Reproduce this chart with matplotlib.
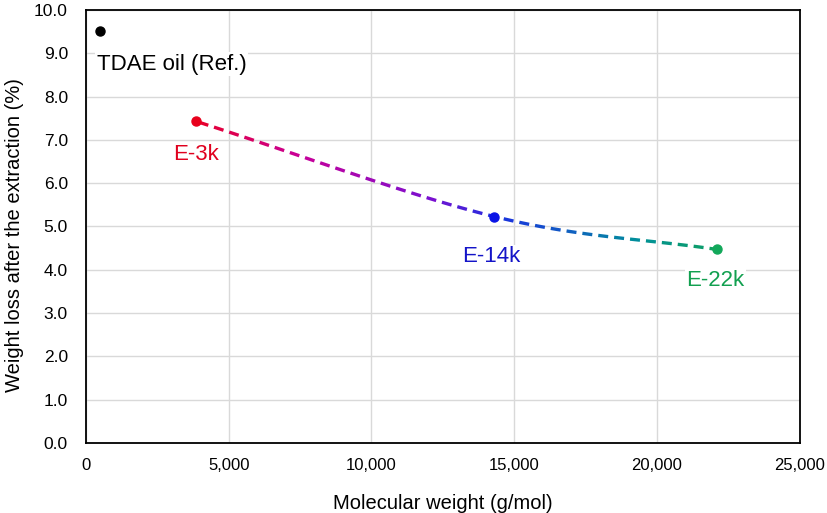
import numpy as np
import matplotlib.pyplot as plt
from matplotlib.collections import LineCollection
from matplotlib.colors import LinearSegmentedColormap

plt.rcParams['font.family'] = ['Liberation Sans', 'DejaVu Sans']

# data
names = ["TDAE oil (Ref.)", "E-3k", "E-14k", "E-22k"]
mol_weight = [500, 3850, 14300, 22100]
weight_loss = [9.51, 7.43, 5.23, 4.47]
point_colors = ["#000000", "#e8001c", "#0a14e6", "#12a85a"]
label_colors = ["#000000", "#e0001e", "#1414c8", "#12a050"]
label_x = [3000, 3850, 14200, 22050]
label_y = [8.75, 6.67, 4.3, 3.76]

x_ticks = [0, 5000, 10000, 15000, 20000, 25000]
y_ticks = np.arange(0, 10.01, 1.0)


def smooth_curve(xs, ys, n=60):
    """Catmull-Rom style smoothing like Excel's smoothed line (render only)."""
    pts = np.column_stack([xs, ys]).astype(float)
    sx, sy = 25000.0, 10.0
    p = pts / [sx, sy]
    ext = np.vstack([p[0] - (p[1] - p[0]), p, p[-1] + (p[-1] - p[-2])])
    out = []
    for i in range(1, len(ext) - 2):
        p0, p1, p2, p3 = ext[i - 1], ext[i], ext[i + 1], ext[i + 2]
        t = np.linspace(0, 1, n)[:, None]
        seg = 0.5 * ((2 * p1) + (-p0 + p2) * t + (2 * p0 - 5 * p1 + 4 * p2 - p3) * t ** 2
                     + (-p0 + 3 * p1 - 3 * p2 + p3) * t ** 3)
        out.append(seg if i == 1 else seg[1:])
    return np.vstack(out) * [sx, sy]


fig = plt.figure(figsize=(8.27, 5.13), dpi=100)
ax = fig.add_axes([0.104, 0.1365, 0.863, 0.844])

ax.set_xlim(0, 25000)
ax.set_ylim(0, 10)
ax.set_xticks(x_ticks)
ax.set_xticklabels([f"{v:,}" for v in x_ticks])
ax.set_yticks(y_ticks)
ax.set_yticklabels([f"{v:.1f}" for v in y_ticks])
ax.grid(True, color="#d9d9d9", linewidth=1.0)
ax.set_axisbelow(True)
ax.tick_params(axis="x", length=0, labelsize=12, pad=11)
ax.tick_params(axis="y", length=0, labelsize=12.5, pad=13)
for s in ax.spines.values():
    s.set_color("black")
    s.set_linewidth(1.3)

# gradient dashed trend through the E samples
curve = smooth_curve(mol_weight[1:], weight_loss[1:], n=200)
disp = ax.transData.transform(curve)
d = np.r_[0, np.cumsum(np.hypot(*np.diff(disp, axis=0).T))]
on, off = 10.0, 6.0
segs, cvals = [], []
start = 3.0
while start < d[-1]:
    end = min(start + on, d[-1])
    mask = (d >= start) & (d <= end)
    s0 = np.interp(start, d, curve[:, 0]), np.interp(start, d, curve[:, 1])
    s1 = np.interp(end, d, curve[:, 0]), np.interp(end, d, curve[:, 1])
    segs.append(np.vstack([s0, curve[mask], s1]))
    cvals.append(np.interp(0.5 * (start + end), d, curve[:, 0]))
    start += on + off

grad = LinearSegmentedColormap.from_list(
    "trend",
    [(0.0, "#e8002a"), (0.2, "#c8009a"), (0.45, "#7a10d0"), (0.58, "#1a30e0"),
     (0.72, "#1060c0"), (0.85, "#00909a"), (1.0, "#10a060")])
x0, x1 = mol_weight[1], mol_weight[3]
cols = [grad((c - x0) / (x1 - x0)) for c in cvals]
ax.add_collection(LineCollection(segs, colors=cols, linewidths=2.4, capstyle="butt", zorder=2))

for xv, yv, c in zip(mol_weight, weight_loss, point_colors):
    ax.plot(xv, yv, "o", color=c, markersize=6.5, zorder=3)

for name, lx, ly, c in zip(names, label_x, label_y, label_colors):
    ax.text(lx, ly, name, color=c, fontsize=16, ha="center", va="center",
            bbox=dict(facecolor="white", edgecolor="none", pad=1.0), zorder=4)

ax.set_xlabel("Molecular weight (g/mol)", fontsize=14.5, labelpad=15)
ax.set_ylabel("Weight loss after the extraction (%)", fontsize=14.5)
ax.yaxis.set_label_coords(-0.087, 0.48)

fig.savefig("out.png", dpi=100)
